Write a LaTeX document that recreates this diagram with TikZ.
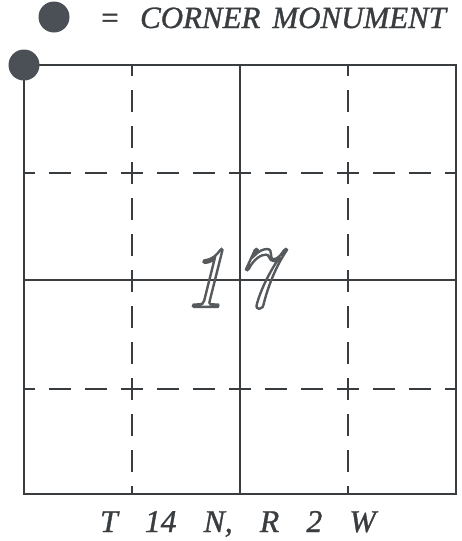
\documentclass[tikz,border=0pt]{standalone}
\usepackage{fontspec}
\usepackage{tikz}
\usetikzlibrary{positioning}
\newfontfamily\plat{Liberation Serif}
\definecolor{ink}{HTML}{3A3D40}
\definecolor{dot}{HTML}{4A5056}
\newcommand\widesp{\spaceskip=6.8mm\relax}
\newcommand\hollow[1]{\special{pdf:code 1 Tr 1.7 w}#1\special{pdf:code 0 Tr}}
\newcommand\heavy[1]{\special{pdf:code 2 Tr 0.25 w}#1\special{pdf:code 0 Tr}}
\tikzset{mon/.style={circle, fill=dot, inner sep=0pt, minimum size=7.75mm},
  edge/.style={draw=ink, line width=2pt},
  sec/.style={draw=ink, line width=0.9pt},
  qtr/.style={draw=ink, line width=0.9pt, dash pattern=on 5.5mm off 3.5mm, dash phase=2.75mm},
  lbl/.style={font=\plat\fontsize{22}{26}\selectfont\itshape, text=ink, inner sep=0pt}}

\begin{document}
\begin{tikzpicture}[x=0.25mm, y=-0.25mm]
  \useasboundingbox (0,0) rectangle (461,541);
  % quarter-quarter lines, dashed
  \foreach \c in {132,348}{
    \draw[qtr] (\c,65) -- (\c,494);
    \draw[qtr] (24,\c+41) -- (456,\c+41);}
  % quarter lines
  \draw[sec] (240,65) -- (240,494);
  \draw[sec] (24,280) -- (456,280);
  % section boundary
  \draw[edge] (24,65) rectangle (456,494);
  % section number
  \node[font=\fontsize{62}{68}\selectfont\itshape, text=ink!85, inner sep=0pt, anchor=base] (num) at (230,307) {\hollow{1\kern5pt7}};
  % corner monument and legend
  \node[mon] (corner) at (24,65) {};
  \node[mon] (key) at (54,17) {};
  \node[lbl, anchor=base west] (keytxt) at (99,28) {\heavy{=\hspace{5mm}CORNER\hspace{3mm}MONUMENT}};
  % township and range
  \node[lbl, anchor=base, font=\plat\fontsize{22.5}{26}\selectfont\itshape\widesp] (twp) at (238,532) {\heavy{T 14 N, R 2 W}};
\end{tikzpicture}
\end{document}
